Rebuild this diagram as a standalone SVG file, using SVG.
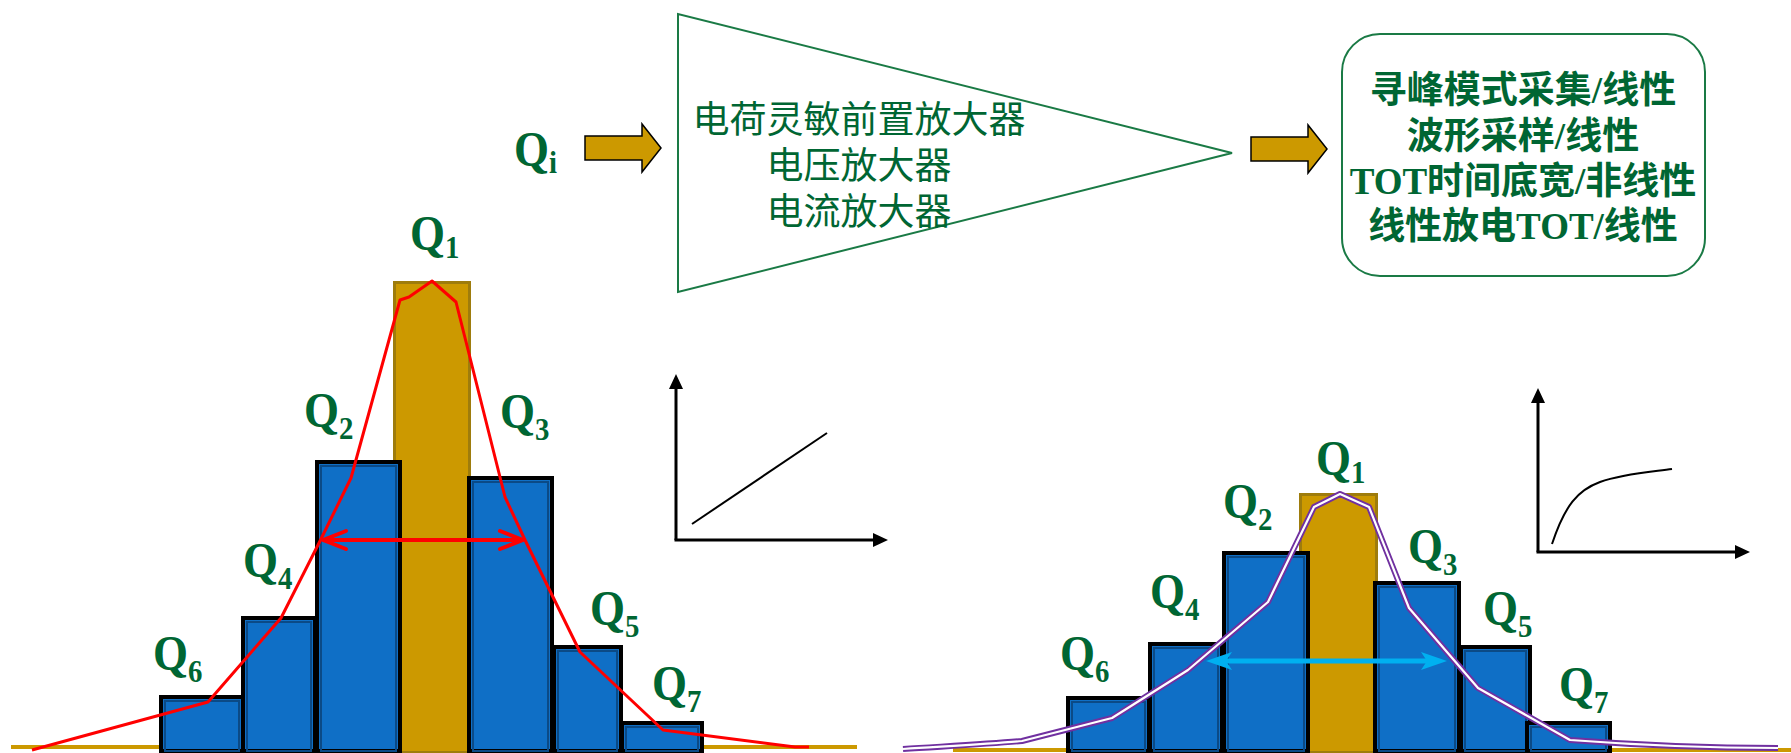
<svg xmlns="http://www.w3.org/2000/svg" width="1791" height="753" viewBox="0 0 1791 753">
<defs>
<style>
.q{font-family:"Liberation Serif","Times New Roman",serif;font-weight:bold;font-size:50px;fill:#006633}
.s{font-size:32px}
.cn{font-family:"Liberation Sans","Noto Sans CJK SC",sans-serif;font-size:37px;fill:#006633;text-anchor:middle}
.bx{font-family:"Liberation Serif","Noto Sans CJK SC",serif;font-weight:bold;font-size:37px;fill:#006633;text-anchor:middle}
.bar{fill:#0f6fc6;stroke:#000;stroke-width:4}
.inner{fill:none;stroke:#0b4a86;stroke-width:2}
.gold{fill:#cc9900;stroke:#9e7c0c;stroke-width:3}
.base{stroke:#cc9900;stroke-width:4}
.blk{fill:#cc9900;stroke:#000;stroke-width:1.5}
.ax{stroke:#000;stroke-width:3;fill:none}
.ln{stroke:#000;stroke-width:2;fill:none}
.ah{fill:#000}
</style>
</defs>
<rect width="1791" height="753" fill="#fff"/>

<g id="qi-label"><text class="q" transform="translate(514,166) scale(0.9,1)">Q<tspan class="s" dy="7">i</tspan></text></g>

<g id="amplifier">
<polygon points="678,14 678,292 1232,153" fill="#fff" stroke="#1a7a45" stroke-width="2"/>
<text class="cn" x="859" y="133">电荷灵敏前置放大器</text>
<text class="cn" x="859" y="179">电压放大器</text>
<text class="cn" x="859" y="225">电流放大器</text>
</g>

<g id="output-box">
<rect x="1342" y="34" width="363" height="242" rx="38" fill="#fff" stroke="#1a7a45" stroke-width="2"/>
<text class="bx" x="1523" y="103">寻峰模式采集/线性</text>
<text class="bx" x="1523" y="149">波形采样/线性</text>
<text class="bx" x="1523" y="194">TOT时间底宽/非线性</text>
<text class="bx" x="1523" y="239">线性放电TOT/线性</text>
</g>

<g id="connectors">
<path class="blk" d="M585,136 H642 V124 L661,148 L642,172 V160 H585 Z"/>
<path class="blk" d="M1251,137 H1308 V125 L1327,149 L1308,173 V161 H1251 Z"/>
</g>

<g id="left-histogram">
<line class="base" x1="11" y1="747" x2="857" y2="747"/>
<rect class="gold" x="394.5" y="282.5" width="75" height="470"/>
<rect class="bar" x="161" y="697" width="82" height="54"/><rect class="inner" x="165" y="701" width="74" height="50"/>
<rect class="bar" x="243" y="618" width="72" height="133"/><rect class="inner" x="247" y="622" width="64" height="129"/>
<rect class="bar" x="317" y="462" width="83" height="289"/><rect class="inner" x="321" y="466" width="75" height="285"/>
<rect class="bar" x="469" y="478" width="83" height="273"/><rect class="inner" x="473" y="482" width="75" height="269"/>
<rect class="bar" x="554" y="647" width="67" height="104"/><rect class="inner" x="558" y="651" width="59" height="100"/>
<rect class="bar" x="622" y="723" width="80" height="28"/><rect class="inner" x="626" y="727" width="72" height="24"/>
<path d="M32,750 L208,702 L281,618 L319,543 L351,478 L400,300 L409,297 L432,281 L456,302 L505,497 L525,540 L580,652 L663,730 L795,747 L809,747" fill="none" stroke="#ff0000" stroke-width="3" stroke-linejoin="round"/>
<line x1="324" y1="540" x2="522" y2="540" stroke="#ff0000" stroke-width="4"/>
<polyline points="346,531 323,540 346,549" fill="none" stroke="#ff0000" stroke-width="4" stroke-linejoin="round" stroke-linecap="round"/>
<polyline points="500,531 523,540 500,549" fill="none" stroke="#ff0000" stroke-width="4" stroke-linejoin="round" stroke-linecap="round"/>
</g>

<g id="left-labels">
<text class="q" transform="translate(410,250) scale(0.9,1)">Q<tspan class="s" dy="8">1</tspan></text>
<text class="q" transform="translate(304,427) scale(0.9,1)">Q<tspan class="s" dy="12">2</tspan></text>
<text class="q" transform="translate(500,428) scale(0.9,1)">Q<tspan class="s" dy="12">3</tspan></text>
<text class="q" transform="translate(243,577) scale(0.9,1)">Q<tspan class="s" dy="12">4</tspan></text>
<text class="q" transform="translate(590,625) scale(0.9,1)">Q<tspan class="s" dy="12">5</tspan></text>
<text class="q" transform="translate(153,670) scale(0.9,1)">Q<tspan class="s" dy="12">6</tspan></text>
<text class="q" transform="translate(652,700) scale(0.9,1)">Q<tspan class="s" dy="12">7</tspan></text>
</g>

<g id="left-chart">
<line class="ax" x1="676" y1="540" x2="676" y2="386"/>
<line class="ax" x1="674.5" y1="540" x2="875" y2="540"/>
<polygon class="ah" points="676,374 669,389 683,389"/>
<polygon class="ah" points="888,540 873,533 873,547"/>
<line class="ln" x1="692" y1="524" x2="827" y2="433"/>
</g>

<g id="right-histogram">
<line class="base" x1="953" y1="750" x2="1791" y2="750"/>
<rect class="gold" x="1300.5" y="494.5" width="76" height="258"/>
<rect class="bar" x="1068" y="698" width="81" height="53"/><rect class="inner" x="1072" y="702" width="73" height="49"/>
<rect class="bar" x="1150" y="644" width="72" height="107"/><rect class="inner" x="1154" y="648" width="64" height="103"/>
<rect class="bar" x="1224" y="553" width="84" height="198"/><rect class="inner" x="1228" y="557" width="76" height="194"/>
<rect class="bar" x="1375" y="583" width="84" height="168"/><rect class="inner" x="1379" y="587" width="76" height="164"/>
<rect class="bar" x="1461" y="647" width="69" height="104"/><rect class="inner" x="1465" y="651" width="61" height="100"/>
<rect class="bar" x="1527" y="723" width="83" height="28"/><rect class="inner" x="1531" y="727" width="75" height="24"/>
<path d="M903,749 C950,746 990,744 1022,741 L1112,718 L1188,670 L1268,602 L1314,507 L1340,494 L1369,507 L1409,608 L1478,688 L1570,740 C1650,746 1720,748 1778,748" fill="none" stroke="#7030a0" stroke-width="6" stroke-linejoin="round"/>
<path d="M903,749 C950,746 990,744 1022,741 L1112,718 L1188,670 L1268,602 L1314,507 L1340,494 L1369,507 L1409,608 L1478,688 L1570,740 C1650,746 1720,748 1778,748" fill="none" stroke="#fff" stroke-width="2.2" stroke-linejoin="round"/>
<line x1="1220" y1="661" x2="1433" y2="661" stroke="#00b0f0" stroke-width="5"/>
<polygon points="1206,661 1232,652 1226,661 1232,670" fill="#00b0f0"/>
<polygon points="1447,661 1421,652 1427,661 1421,670" fill="#00b0f0"/>
</g>

<g id="right-labels">
<text class="q" transform="translate(1316,475) scale(0.9,1)">Q<tspan class="s" dy="8">1</tspan></text>
<text class="q" transform="translate(1223,518) scale(0.9,1)">Q<tspan class="s" dy="12">2</tspan></text>
<text class="q" transform="translate(1408,563) scale(0.9,1)">Q<tspan class="s" dy="12">3</tspan></text>
<text class="q" transform="translate(1150,608) scale(0.9,1)">Q<tspan class="s" dy="12">4</tspan></text>
<text class="q" transform="translate(1483,625) scale(0.9,1)">Q<tspan class="s" dy="12">5</tspan></text>
<text class="q" transform="translate(1060,670) scale(0.9,1)">Q<tspan class="s" dy="12">6</tspan></text>
<text class="q" transform="translate(1559,701) scale(0.9,1)">Q<tspan class="s" dy="12">7</tspan></text>
</g>

<g id="right-chart">
<line class="ax" x1="1538" y1="552" x2="1538" y2="400"/>
<line class="ax" x1="1536.5" y1="552" x2="1736" y2="552"/>
<polygon class="ah" points="1538,388 1531,403 1545,403"/>
<polygon class="ah" points="1750,552 1735,545 1735,559"/>
<path class="ln" d="M1552,544 C1565,505 1578,490 1600,482 C1622,474 1650,472 1672,469"/>
</g>
</svg>
